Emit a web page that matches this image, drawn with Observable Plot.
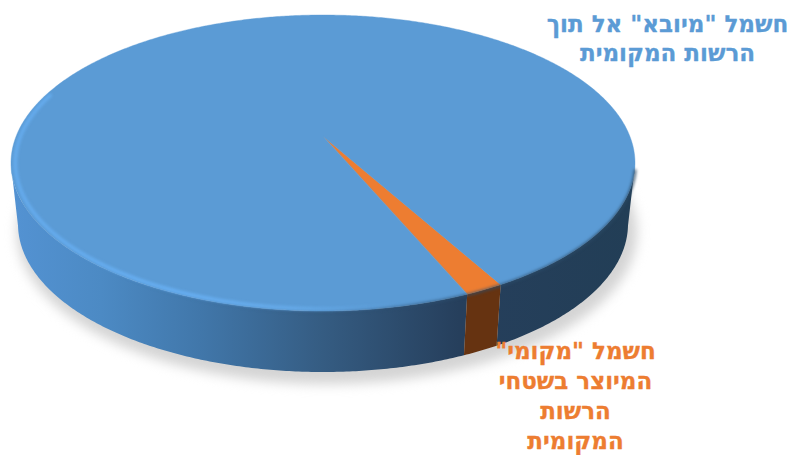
<!DOCTYPE html>
<html lang="he">
<head>
<meta charset="utf-8">
<style>html,body{margin:0;padding:0;background:#fff}</style>
<script src="https://cdn.jsdelivr.net/npm/d3@7"></script>
<script src="https://cdn.jsdelivr.net/npm/@observablehq/plot@0.6"></script>
</head>
<body>
<div id="chart"></div>
<script>
// Electricity supplied to the local authority: imported vs. generated locally.
const sliceNames = ['חשמל "מקומי"\nהמיוצר בשטחי\nהרשות\nהמקומית', 'חשמל "מיובא" אל תוך\nהרשות המקומית'];
const sliceShares = [1.7, 98.3];
const sliceColors = ["#ed7d31", "#5b9bd5"];
const sliceWallFills = ["#663311", "url(#wallShade)"];
const labelColors = ["#ed7d31", "#5b9bd5"];
const labelX = [575, 667];
const labelY = [394, 37];
const labelLineHeight = [1.31, 1.22];

const firstSliceAngle = 150.8; // degrees clockwise from the back of the pie
const topFace = {cx: 323, cy: 163, rx: 312, ry: 148};
const baseFace = {cx: 323, cy: 224, rx: 305, ry: 148};
const tilt = -0.18; // perspective pull of the hub towards the back

// Projects a point of the unit disk onto a tilted face.
function project(face, deg, r = 1) {
  const t = deg * Math.PI / 180;
  const X = r * Math.sin(t), Y = -r * Math.cos(t);
  const d = 1 + tilt * Y;
  return [face.cx + face.rx * X * Math.sqrt(1 - tilt * tilt) / d,
          face.cy + face.ry * (Y + tilt) / d];
}
const sweep = (a0, a1, step = 0.5) => {
  const n = Math.ceil(Math.abs(a1 - a0) / step);
  return d3.range(n + 1).map(i => a0 + (a1 - a0) * i / n);
};

const total = d3.sum(sliceShares);
let cursor = firstSliceAngle;
const slices = sliceShares.map((v, i) => {
  const a0 = cursor; cursor += v / total * 360;
  return {i, a0, a1: cursor};
});

// Top face wedges: a fan from the hub to the rim.
const hub = project(topFace, 0, 0);
const topRows = slices.flatMap(s => sweep(s.a0, s.a1).map(a => {
  const [x, y] = project(topFace, a);
  return {slice: s.i, x, y, hx: hub[0], hy: hub[1]};
}));

// Side wall: one quad strip per visible run of angles.
const wallFrom = 101, wallTo = 259;
const wallStrip = (lo, hi) => sweep(lo, hi).map(a => {
  const [x1, y1] = project(topFace, a);
  const [x2, y2] = project(baseFace, a);
  return {x1, y1, x2, y2};
});
const localWall = wallStrip(slices[0].a0, slices[0].a1);
const importedWallRight = wallStrip(wallFrom, slices[0].a0);
const importedWallLeft = wallStrip(slices[0].a1, wallTo);

// Soft drop shadow under the base.
const shadowRows = sweep(0, 360, 2).map(a => {
  const t = a * Math.PI / 180;
  return {x: baseFace.cx + 4 + (baseFace.rx + 5) * Math.sin(t),
          y: baseFace.cy + 8 - (baseFace.ry + 4) * Math.cos(t)};
});

const rimRows = sweep(146, 288).map(a => {
  const [x, y] = project(topFace, a, 0.988);
  return {x, y};
});
const edgeRows = sweep(103, 240).map(a => {
  const [x, y] = project(topFace, a, 1.0);
  return {x, y};
});

// Gradients shared by the wall and the rim, in page coordinates.
function gradients() {
  const g = d3.create("svg:g");
  const defs = g.append("defs");
  const grad = (id, stops, x1, y1, x2, y2) => {
    const lg = defs.append("linearGradient").attr("id", id)
      .attr("gradientUnits", "userSpaceOnUse")
      .attr("x1", x1).attr("y1", y1).attr("x2", x2).attr("y2", y2);
    stops.forEach(([o, c, a]) => lg.append("stop").attr("offset", o).attr("stop-color", c).attr("stop-opacity", a ?? 1));
  };
  grad("wallShade", [[0, "#5392d2"], [0.14, "#4c8ac4"], [0.3, "#4177aa"], [0.5, "#355c82"], [0.72, "#263f5c"], [1, "#223e56"]], 15, 0, 631, 0);
  grad("rimGlow", [[0, "#68b0f4", 0.8], [0.4, "#68b0f4", 1], [0.62, "#6ab0f0", 0.8], [0.85, "#6ab0f0", 0]], 10, 0, 470, 0);
  grad("edgeDark", [[0, "#2c5f8c", 0], [0.4, "#2c4f70", 0.25], [0.6, "#2c4f70", 0.7], [1, "#2a4862", 0.9]], 120, 0, 630, 0);
  return g.node();
}

const wallMark = (rows, fill) => Plot.area(rows, {x1: "x1", y1: "y1", x2: "x2", y2: "y2", fill});

const chart = Plot.plot({
  width: 791,
  height: 455,
  margin: 0,
  x: {domain: [0, 791], range: [0, 791], axis: null},
  y: {domain: [0, 455], range: [0, 455], axis: null},
  style: {background: "#fff", direction: "rtl"},
  marks: [
    gradients,
    Plot.area(shadowRows, {x1: "x", y1: "y", x2: baseFace.cx, y2: baseFace.cy, fill: "#d4d4d4", imageFilter: "blur(6px)"}),
    wallMark(importedWallRight, sliceWallFills[1]),
    wallMark(importedWallLeft, sliceWallFills[1]),
    wallMark(localWall, sliceWallFills[0]),
    ...slices.map(s => Plot.area(topRows.filter(d => d.slice === s.i), {
      x1: "x", y1: "y", x2: "hx", y2: "hy", fill: sliceColors[s.i], stroke: sliceColors[s.i], strokeWidth: 0.4
    })),
    Plot.line(edgeRows, {x: "x", y: "y", stroke: "url(#edgeDark)", strokeWidth: 2.5, imageFilter: "blur(1.5px)"}),
    Plot.line(rimRows, {x: "x", y: "y", stroke: "url(#rimGlow)", strokeWidth: 3.5, imageFilter: "blur(1.4px)"}),
    ...slices.map(s => Plot.text([sliceNames[s.i]], {
      x: labelX[s.i], y: labelY[s.i], text: d => d, fill: labelColors[s.i],
      stroke: labelColors[s.i], strokeWidth: 0.3,
      fontSize: 23, fontWeight: "bold", fontFamily: "'DejaVu Sans', sans-serif",
      lineHeight: labelLineHeight[s.i], textAnchor: "middle", lineAnchor: "middle"
    }))
  ]
});
document.getElementById("chart").append(chart);
</script>
</body>
</html>
